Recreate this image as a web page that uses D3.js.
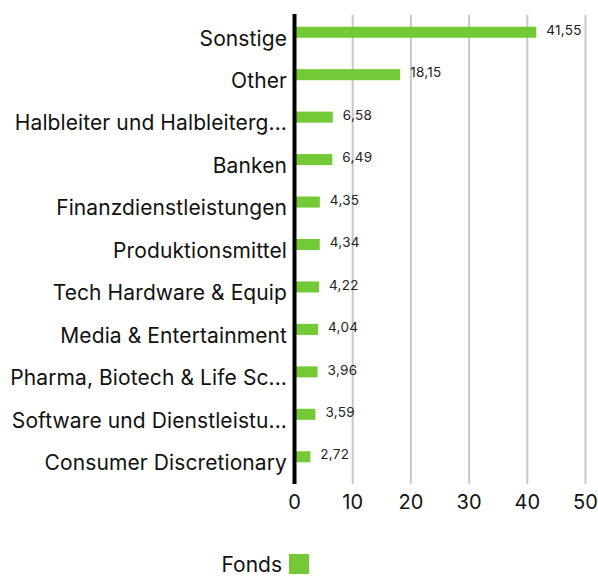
<!DOCTYPE html>
<html>
<head>
<meta charset="utf-8">
<script src="https://cdn.jsdelivr.net/npm/d3@7"></script>
<style>
  body { margin: 0; background: #fff; }
  svg { font-family: Inter, "Open Sans", sans-serif; }
</style>
</head>
<body>
<div id="chart"></div>
<script>

// data
var categories = [
    'Sonstige',
    'Other',
    'Halbleiter und Halbleiterg...',
    'Banken',
    'Finanzdienstleistungen',
    'Produktionsmittel',
    'Tech Hardware & Equip',
    'Media & Entertainment',
    'Pharma, Biotech & Life Sc...',
    'Software und Dienstleistu...',
    'Consumer Discretionary'
];
var values = [ 41.55, 18.15, 6.58, 6.49, 4.35, 4.34, 4.22, 4.04, 3.96, 3.59, 2.72 ];
var ticks = [ 0, 10, 20, 30, 40, 50 ];
var seriesName = 'Fonds';

var width = 598,
    height = 577,
    x0 = 294.5,
    green = '#74c936';

var svg = d3.select('#chart').append('svg')
    .attr('width', width)
    .attr('height', height);

var x = d3.scaleLinear()
    .domain([ 0, 50 ])
    .range([ x0, 585.5 ]);

var y = d3.scaleBand()
    .domain( categories )
    .range([ 11, 478 ])
    .paddingInner( 0.74 )
    .paddingOuter( 0.37 );

// grid lines
svg.append('g')
    .selectAll('line')
    .data( ticks.slice(1) )
    .enter().append('line')
    .attr('x1', function (d) { return x(d) })
    .attr('x2', function (d) { return x(d) })
    .attr('y1', 15)
    .attr('y2', 484)
    .style('stroke', '#c8c8c8')
    .style('stroke-width', 2);

// bars
svg.append('g')
    .selectAll('rect')
    .data( values )
    .enter().append('rect')
    .attr('x', x(0) + 1.5)
    .attr('y', function (d, i) { return y( categories[i] ) })
    .attr('width', function (d) { return x(d) - x(0) - 1.5 })
    .attr('height', y.bandwidth())
    .style('fill', green);

// value labels
var fmt = function (d) { return d3.format('.2f')(d).replace('.', ',') };

svg.append('g')
    .selectAll('text')
    .data( values )
    .enter().append('text')
    .attr('x', function (d) { return x(d) + 10 })
    .attr('y', function (d, i) { return y( categories[i] ) + y.bandwidth() / 2 - 2 })
    .attr('dy', '0.35em')
    .style('font-size', '13.5px')
    .style('letter-spacing', '0.3px')
    .style('fill', '#222')
    .text( fmt );

// category labels
svg.append('g')
    .selectAll('text')
    .data( categories )
    .enter().append('text')
    .attr('x', 287)
    .attr('y', function (d) { return y(d) + y.bandwidth() / 2 + 6 })
    .attr('dy', '0.35em')
    .attr('text-anchor', 'end')
    .style('font-size', '21px')
    .style('letter-spacing', '0.1px')
    .style('fill', '#111')
    .text( function (d) { return d });

// y axis line
svg.append('line')
    .attr('x1', x0)
    .attr('x2', x0)
    .attr('y1', 14)
    .attr('y2', 484)
    .style('stroke', '#000')
    .style('stroke-width', 4);

// x tick labels
svg.append('g')
    .selectAll('text')
    .data( ticks )
    .enter().append('text')
    .attr('x', function (d) { return x(d) })
    .attr('y', 502)
    .attr('dy', '0.35em')
    .attr('text-anchor', 'middle')
    .style('font-size', '20px')
    .style('fill', '#111')
    .text( function (d) { return d });

// legend
svg.append('text')
    .attr('x', 282)
    .attr('y', 572)
    .attr('text-anchor', 'end')
    .style('font-size', '21px')
    .style('fill', '#111')
    .text( seriesName );

svg.append('rect')
    .attr('x', 289)
    .attr('y', 554)
    .attr('width', 20)
    .attr('height', 20)
    .style('fill', green);

</script>
</body>
</html>
